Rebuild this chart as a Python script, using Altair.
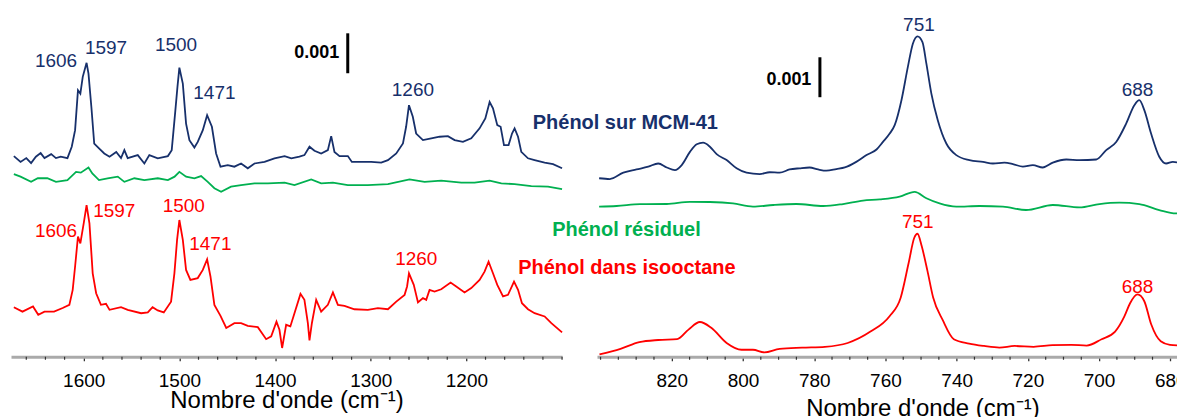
import altair as alt
import pandas as pd

FONT = "Liberation Sans"
SERIES = ["mcm", "res", "iso"]
SERIES_COLORS = ["#17306b", "#00b050", "#ff0000"]

# absorbance offsets in units of 1e-4 (0.001 = 10 units), wavenumbers in cm-1
# ---------- left panel (1676 - 1100 cm-1) ----------
mcm_l_wn = [1673, 1666, 1660, 1655, 1650, 1645, 1641, 1634, 1629, 1624, 1617, 1612.5, 1609, 1606, 1603.5, 1601,
            1597, 1595, 1592, 1589, 1584, 1578.5, 1573, 1566, 1561, 1557.5, 1554, 1543.5, 1536.6, 1531.4, 1522.6,
            1512, 1508, 1504.5, 1502, 1500, 1496.4, 1493, 1489.5, 1484.3, 1480.8, 1475.5, 1471, 1466, 1461.6, 1457,
            1449.4, 1442.5, 1435.5, 1428.5, 1421.5, 1411, 1400.6, 1390, 1383, 1374.5, 1369.3, 1364, 1358.8, 1351.8,
            1344.8, 1341.3, 1337.9, 1332.6, 1323.9, 1319.7, 1310, 1299.5, 1289, 1282, 1273.3, 1266.3, 1263, 1260,
            1256, 1252.5, 1245.4, 1236.7, 1228, 1219.3, 1212.3, 1203.6, 1194.9, 1186.2, 1180.2, 1175.7, 1172.2,
            1167.7, 1164.2, 1160.7, 1155.9, 1152.3, 1149.6, 1146, 1142.6, 1135.6, 1128.7, 1118.2, 1109.4, 1100]
mcm_l_a = [50.25, 48.8, 49.75, 48.5, 50.1, 51, 49.75, 50.75, 49.75, 50.1, 49.75, 52.6, 56.75, 66.75, 65.9, 70.1,
           73.6, 70.9, 62.6, 53.4, 52.2, 50.9, 50.1, 51.3, 49.75, 51.75, 49.75, 50.5, 48.4, 50.5, 49.7,
           50.25, 51.75, 60.9, 67.6, 72.4, 68.4, 58.4, 54.25, 52.4, 53.8, 56.75, 60.5, 57.6, 50.9, 47.6,
           48, 47.6, 48.4, 47.2, 48.4, 48.8, 49.7, 50.25, 49.7, 50.1, 50.5, 52.6, 51.6, 50.9,
           51.75, 55.25, 51.3, 50.25, 50.25, 48.8, 48.8, 48.8, 48.6, 49.25, 50.9, 53.4, 57.6, 63,
           60.1, 55.9, 54.25, 54.7, 55.1, 55.25, 54.25, 53.8, 54.7, 57.2, 59.7, 63.8, 62.2,
           58, 57.6, 53, 53, 55.9, 57.2, 55.1, 51.3, 49.7, 49.25, 48.6, 48.25, 47.2]

res_l_wn = [1673, 1666, 1655, 1648, 1638, 1629, 1617, 1608, 1603, 1595, 1591, 1584, 1575, 1564.4, 1557.5, 1547,
            1536.6, 1522.6, 1512, 1505, 1500, 1493, 1484.3, 1477.3, 1470.3, 1463.4, 1456.4, 1446, 1435.5, 1421.5,
            1407.5, 1390, 1379.7, 1362.2, 1351.8, 1339.5, 1323.9, 1303, 1282, 1259.4, 1243.7, 1226.3, 1205.3,
            1191.4, 1175.7, 1163.5, 1149.6, 1132.1, 1114.7, 1100]
res_l_a = [45.75, 45.1, 43.8, 44.7, 44.7, 43.8, 44.25, 46.3, 46.1, 47.4, 45.9, 44.25, 44.7, 45.1, 43.8, 44.7,
           44.25, 44.7, 44.25, 45.1, 46.3, 45.1, 44.7, 45.25, 43.8, 42.2, 41.3, 42.6, 43, 43.4,
           43.4, 43.6, 43, 44.4, 43.4, 43.6, 43, 43, 43.25, 44.4, 43.8, 44.1, 43.6,
           43.6, 44.1, 43.4, 43.25, 42.75, 42.6, 42]

iso_l_wn = [1673, 1664, 1653, 1647.5, 1641, 1631, 1622, 1615, 1611.5, 1609, 1606, 1603.5, 1600, 1597, 1594,
            1590.6, 1587, 1582, 1576.7, 1573, 1561, 1554, 1540, 1533, 1528, 1522.6, 1516.3, 1508.7, 1505.2,
            1502.4, 1500, 1496.4, 1493, 1488.5, 1480.8, 1475.5, 1471, 1467.5, 1463.4, 1457, 1451, 1442.5,
            1435.5, 1428.5, 1418, 1409.3, 1404, 1398.5, 1395.4, 1392.6, 1388.4, 1384, 1379.7, 1373.4, 1369.3,
            1365.7, 1364, 1361.5, 1357, 1351.8, 1344.8, 1339.5, 1334.3, 1327.4, 1317, 1303, 1292.5, 1282,
            1273.3, 1264.6, 1262, 1260, 1255, 1250.6, 1245.4, 1242, 1238.5, 1233.3, 1226.3, 1216.5, 1210.6,
            1201.9, 1194.9, 1186.2, 1181, 1176.8, 1172.2, 1167.7, 1161.7, 1156.5, 1150.2, 1146, 1141.9,
            1135.6, 1128.7, 1118.2, 1111.2, 1100]
iso_l_a = [12.4, 11.3, 12.6, 10.5, 11.3, 11.3, 12.2, 13, 16.75, 22.6, 30.1, 28.4, 33.4, 38, 33.4,
           20.9, 15.9, 13, 13.25, 11.75, 12.4, 11.75, 10.9, 11.1, 12.4, 11.6, 11.1, 13.8, 20.9,
           29.25, 34.25, 29.25, 21.75, 19.25, 19.7, 21.75, 24.4, 20.1, 13, 10.25, 7.2, 8.4,
           8.4, 7.75, 7.4, 4.4, 5.1, 8.8, 6.75, 2.2, 8, 7.6, 10.9, 15.75, 14.25,
           8.4, 4.1, 8.4, 14.25, 11.3, 13, 16.1, 13, 12.75, 11.9, 11.75, 12.2, 11.9,
           13.8, 15.5, 17.6, 20.9, 18, 13.6, 14.7, 14.25, 16.75, 16.3, 16.9, 18.6, 17.6,
           16.1, 17.2, 19.25, 21.3, 23.8, 20.9, 18, 15.1, 15.5, 18.8, 16.75, 13.4,
           11.9, 10.9, 10.1, 8.4, 6.1]

# ---------- right panel (841 - 677 cm-1) ----------
mcm_r_wn = [840.4, 837.4, 833.6, 829.9, 826.6, 823.8, 821.4, 819.1, 817.2, 814.9, 813, 811.2, 809.3, 807.4,
            804.6, 801.8, 799, 795.3, 792.5, 789.7, 786.9, 784.1, 781.3, 778.9, 776.6, 773.8, 771.4, 768.2,
            765.3, 762.5, 760.7, 758.8, 757.4, 755.5, 753.7, 752.3, 751, 749.6, 748.5, 747.1, 745.3, 742.9,
            740.1, 736.4, 732.6, 729.8, 726.6, 724.2, 721.4, 718.6, 715.8, 713, 709.2, 705.5, 700.8, 698,
            695.2, 692.4, 690.1, 688.7, 687.3, 685.4, 683.1, 681.2, 679.3, 677]
mcm_r_a = [44.7, 44.5, 46.1, 46.9, 47.6, 48.4, 47.4, 46.75, 48, 51.3, 53.2, 53.6, 52.6, 50.75,
           49.25, 47.2, 46.1, 45.75, 46.2, 46.1, 46.9, 47.2, 47.4, 46.9, 46.6, 47, 47.4, 48.8,
           50.5, 51.9, 53.8, 55.9, 58, 64.25, 72.6, 78.4, 80.25, 78.8, 73.4, 65.9, 59.25, 53.4,
           50.5, 49.25, 48.8, 48.4, 48.6, 48.25, 47.6, 48, 47.4, 48.6, 49.4, 49.25, 49.4, 51.75,
           53.8, 58.4, 63, 64.25, 61.75, 55.9, 50.1, 48.4, 48.8, 48.5]

res_r_wn = [840.4, 835.5, 828.9, 821.4, 814.9, 809.3, 802.8, 797.2, 791.5, 785, 777.5, 771.9, 766.3, 761.6, 756,
            751.8, 748.5, 744.8, 740.1, 733.6, 727, 720.5, 713, 705.5, 699.9, 694.3, 688.7, 683.1, 678.4, 677]
res_r_a = [37.6, 37.75, 38.2, 38.25, 38.8, 38.75, 38.4, 37.6, 38, 38.25, 37.75, 38.25, 39.1, 39.4, 40.1,
           41.3, 39.7, 38.4, 37.6, 37.75, 37.6, 36.75, 38, 37.4, 38.25, 38.6, 38.25, 36.75, 35.9, 36.1]

iso_r_wn = [840.3, 834.4, 829.1, 823.8, 818.5, 815.3, 812.1, 808.9, 804.6, 800.4, 797.2, 794, 789.7, 783.4, 777,
            770.6, 764.2, 758.9, 755.7, 753.5, 751.9, 751, 749.8, 748.2, 746.6, 743.9, 740.8, 736.5, 732.3, 728,
            723.7, 718.4, 713.1, 707.8, 703.5, 699.3, 695.5, 692.9, 691.3, 689.2, 687.3, 685.4, 682.7, 680.1, 677]
iso_r_a = [0.6, 2, 3.65, 4.2, 4.4, 6.8, 8.7, 7.25, 3.45, 1.75, 1.75, 1.1, 2, 2.3, 2.5,
           3.45, 6.3, 10.1, 14.85, 23.4, 29.8, 30.8, 27.65, 21.5, 14.85, 9.15, 4.4, 3.3, 2.7, 2.3,
           2.7, 2.5, 2.9, 3, 2.8, 4.4, 6.3, 10.1, 13.4, 15.6, 13.9, 8.2, 3.9, 3, 2.8]

# ---------- peak labels ----------
lab_l_text = ["1606", "1597", "1500", "1471", "1260", "1606", "1597", "1500", "1471", "1260"]
lab_l_wn = [1629, 1576.7, 1503.5, 1463.4, 1255.9, 1629, 1568, 1495.4, 1467.6, 1252.4]
lab_l_a = [74.1, 77.2, 78, 66.1, 66.9, 31.6, 36.6, 37.7, 28.25, 24.4]
lab_l_serie = ["mcm"] * 5 + ["iso"] * 5

lab_r_text = ["751", "688", "751", "688"]
lab_r_wn = [750.6, 689.2, 750.9, 689.2]
lab_r_a = [83, 66.75, 33.75, 17.5]
lab_r_serie = ["mcm", "mcm", "iso", "iso"]

name_text = ["Phénol sur MCM-41", "Phénol résiduel", "Phénol dans isooctane"]
name_wn = [1033.8, 1032.7, 1032.2]
name_a = [58.5, 31.75, 22.25]
name_serie = ["mcm", "res", "iso"]

# scale bars (0.001 = 10 units)
bar_l_wn, bar_l_a, bar_l_a2 = [1324], [71], [81]
bar_l_txt_wn, bar_l_txt_a = [1333], [76]
bar_r_wn, bar_r_a, bar_r_a2 = [778.4], [65], [75]
bar_r_txt_wn, bar_r_txt_a = [780.8], [69.25]
bar_label = ["0.001"]

# axis ticks: labelled ticks and minor ticks
major_l = [1600, 1500, 1400, 1300, 1200]
minor_l = [v for v in range(1660, 1099, -20) if v not in major_l]
major_r = [820, 800, 780, 760, 740, 720, 700, 680]
minor_r = [v for v in range(840, 676, -5) if v not in major_r]
Y_TOP = 87.25
PANEL_H = 349


def frame(wn, a, key):
    return pd.DataFrame({"wn": wn, "a": a, "serie": key})


color = alt.Color("serie:N", scale=alt.Scale(domain=SERIES, range=SERIES_COLORS), legend=None)
y_enc = alt.Y("a:Q", scale=alt.Scale(domain=[0, Y_TOP], nice=False, zero=False), axis=None)


def x_enc(lo, hi, ticks, title_y, title_x=None):
    ax = dict(values=ticks, format="d", title="Nombre d'onde (cm⁻¹)",
              labelFont=FONT, labelFontSize=19, labelColor="black", labelBaseline="alphabetic",
              labelPadding=26, labelOverlap=False, labelFlush=False,
              tickSize=4, tickColor="#333333", tickWidth=1.3,
              domainColor="#aaaaaa", domainWidth=3,
              titleFont=FONT, titleFontSize=24, titleFontWeight="normal", titleColor="black",
              titleBaseline="alphabetic", titleY=title_y, grid=False)
    if title_x is not None:
        ax["titleX"] = title_x
    return alt.X("wn:Q", scale=alt.Scale(domain=[lo, hi], reverse=True, nice=False, zero=False),
                 axis=alt.Axis(**ax))


def panel(lines_df, labels_df, bar_df, bar_txt_df, minor, xe, width, interp, names_df=None):
    lines = alt.Chart(lines_df).mark_line(strokeWidth=1.8, interpolate=interp).encode(
        x=xe, y=y_enc, color=color)
    labels = alt.Chart(labels_df).mark_text(font=FONT, fontSize=19).encode(
        x=xe, y=y_enc, text="text:N", color=color)
    rule = alt.Chart(bar_df).mark_rule(strokeWidth=3, color="black").encode(
        x=xe, y=y_enc, y2=alt.Y2("a2:Q"))
    btxt = alt.Chart(bar_txt_df).mark_text(font=FONT, fontSize=18, fontWeight="bold", align="right",
                                           baseline="middle", color="black").encode(
        x=xe, y=y_enc, text="t:N")
    ticks = alt.Chart(pd.DataFrame({"wn": minor})).mark_rule(color="#333333", strokeWidth=1.2).encode(
        x=xe, y=alt.value(PANEL_H), y2=alt.value(PANEL_H + 3))
    layers = [lines, labels, rule, btxt, ticks]
    if names_df is not None:
        layers.append(alt.Chart(names_df).mark_text(font=FONT, fontSize=20, fontWeight="bold").encode(
            x=xe, y=y_enc, text="text:N", color=color))
    return alt.layer(*layers).properties(width=width, height=PANEL_H)


df_l = pd.concat([frame(mcm_l_wn, mcm_l_a, "mcm"), frame(res_l_wn, res_l_a, "res"),
                  frame(iso_l_wn, iso_l_a, "iso")])
df_r = pd.concat([frame(mcm_r_wn, mcm_r_a, "mcm"), frame(res_r_wn, res_r_a, "res"),
                  frame(iso_r_wn, iso_r_a, "iso")])
lab_l = pd.DataFrame({"wn": lab_l_wn, "a": lab_l_a, "text": lab_l_text, "serie": lab_l_serie})
lab_r = pd.DataFrame({"wn": lab_r_wn, "a": lab_r_a, "text": lab_r_text, "serie": lab_r_serie})
names = pd.DataFrame({"wn": name_wn, "a": name_a, "text": name_text, "serie": name_serie})
bl = pd.DataFrame({"wn": bar_l_wn, "a": bar_l_a, "a2": bar_l_a2})
blt = pd.DataFrame({"wn": bar_l_txt_wn, "a": bar_l_txt_a, "t": bar_label})
br = pd.DataFrame({"wn": bar_r_wn, "a": bar_r_a, "a2": bar_r_a2})
brt = pd.DataFrame({"wn": bar_r_txt_wn, "a": bar_r_txt_a, "t": bar_label})

xl = x_enc(1100, 1676, major_l, 51)
xr = x_enc(677, 841, major_r, 59, 326)

left = panel(df_l, lab_l, bl, blt, minor_l, xl, 552, "linear", names)
right = panel(df_r, lab_r, br, brt, minor_r, xr, 585, "monotone")

chart = alt.hconcat(left, right, spacing=35, bounds="flush").properties(
    padding={"left": 2, "top": 0, "right": -10, "bottom": 0}
).configure_view(stroke=None)

chart.save("out.html", embed_options={"renderer": "svg", "actions": False})
